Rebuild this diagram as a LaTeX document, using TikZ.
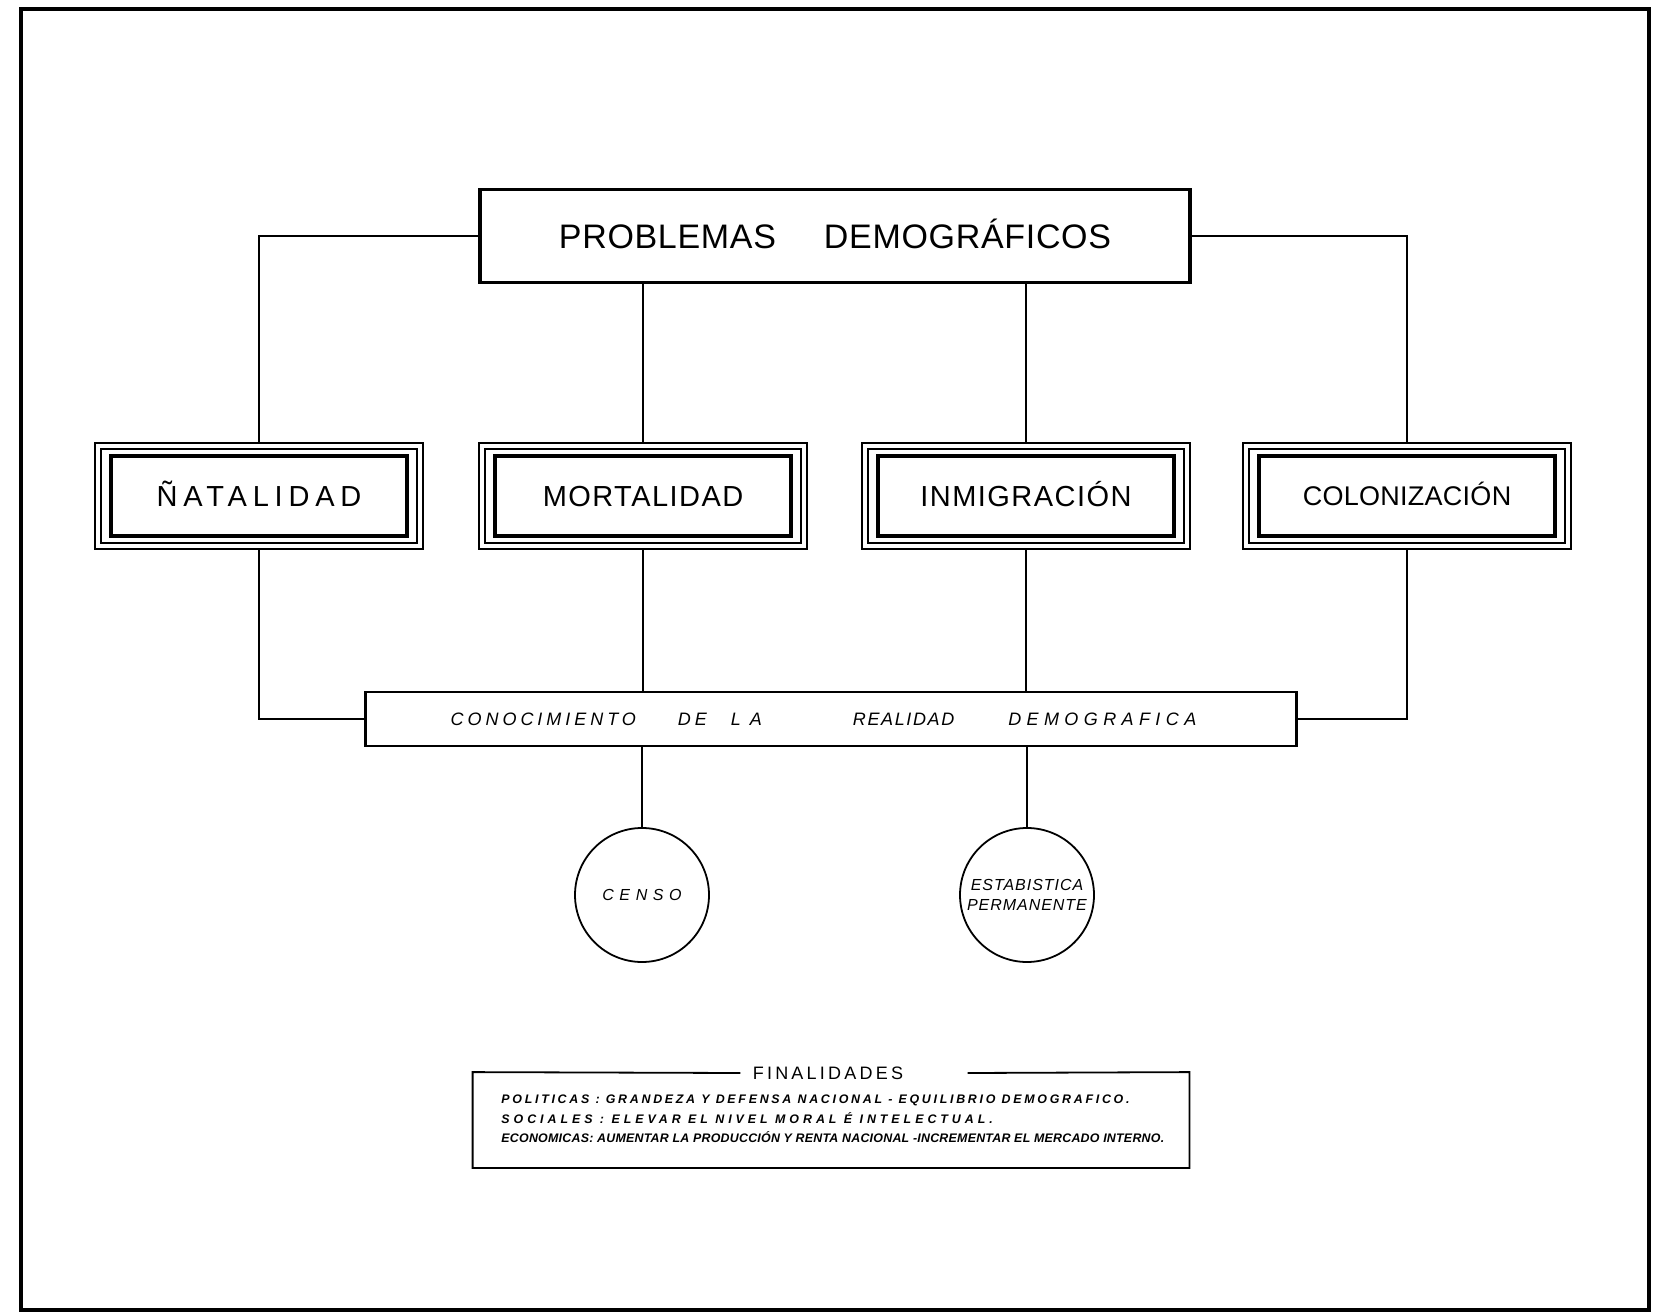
\documentclass[tikz,border=0pt]{standalone}
\usepackage{fontspec}
\setmainfont{Liberation Sans}
\begin{document}
\begin{tikzpicture}[x=0.5pt, y=-0.5pt,
  tile/.style={draw, line width=0.6pt, minimum width=164pt, minimum height=53pt, inner sep=0pt},
  midtile/.style={draw, line width=0.6pt, minimum width=158pt, minimum height=47pt, inner sep=0pt},
  innertile/.style={draw, line width=1.8pt, minimum width=148pt, minimum height=40pt, inner sep=0pt, text height=10.4pt, text depth=0pt, font=\fontsize{14.5}{17}\selectfont\addfontfeatures{LetterSpace=5}},
  link/.style={line width=1.2pt},
  roundbox/.style={circle, draw, line width=0.9pt, minimum size=67pt, inner sep=0pt, align=center}]
\useasboundingbox (0,0) rectangle (1653,1315);
\draw[line width=2pt] (21,9) rectangle (1649,1310);
\node[draw, line width=1.6pt, minimum width=355pt, minimum height=46.5pt, text height=12.2pt, text depth=0pt, font=\fontsize{17}{20}\selectfont\addfontfeatures{LetterSpace=2}] (prob) at (835,236) {PROBLEMAS\hspace{24pt}DEMOGRÁFICOS};
\node[tile] (nat) at (259,496) {};
\node[midtile] (natMid) at (nat) {};
\node[innertile, font=\fontsize{14.5}{17}\selectfont\addfontfeatures{LetterSpace=20}] (natIn) at (nat) {ÑATALIDAD};
\node[tile] (mor) at (643,496) {};
\node[midtile] (morMid) at (mor) {};
\node[innertile] (morIn) at (mor) {MORTALIDAD};
\node[tile] (inm) at (1026,496) {};
\node[midtile] (inmMid) at (inm) {};
\node[innertile] (inmIn) at (inm) {INMIGRACIÓN};
\node[tile] (col) at (1407,496) {};
\node[midtile] (colMid) at (col) {};
\node[innertile, text height=9.7pt, font=\fontsize{13.5}{17}\selectfont\addfontfeatures{LetterSpace=1}] (colIn) at (col) {COLONIZACIÓN};
\node[draw, line width=1.2pt, minimum width=465.5pt, minimum height=27pt, font=\fontsize{9}{11}\selectfont\itshape\addfontfeatures{LetterSpace=22}] (con) at (831,719) {CONOCIMIENTO\hspace{21pt}DE\hspace{12pt}{\addfontfeatures{LetterSpace=50}LA}\hspace{45.5pt}{\addfontfeatures{LetterSpace=9}REALIDAD}\hspace{27pt}{\addfontfeatures{LetterSpace=30}DEMOGRAFICA}\hspace{7.5pt}\null};
\node[roundbox, font=\fontsize{8}{10}\selectfont\itshape\addfontfeatures{LetterSpace=35}] (censo) at (642,895) {CENSO};
\node[roundbox, font=\fontsize{8}{10}\selectfont\itshape\addfontfeatures{LetterSpace=6}] (est) at (1027,895) {ESTABISTICA\\PERMANENTE};
\draw[link] (prob.west) -| (nat.north);
\draw[link] (prob.east) -| (col.north);
\draw[link] (mor.north) -- (mor.north |- prob.south);
\draw[link] (inm.north) -- (inm.north |- prob.south);
\draw[link] (nat.south) |- (con.west);
\draw[link] (col.south) |- (con.east);
\draw[link] (mor.south) -- (mor.south |- con.north);
\draw[link] (inm.south) -- (inm.south |- con.north);
\draw[link] (con.south -| censo.north) -- (censo.north);
\draw[link] (con.south -| est.north) -- (est.north);
\node[minimum width=358pt, minimum height=47.5pt, inner sep=0pt] (fin) at (831,1120) {};
\node[inner xsep=6pt, font=\fontsize{9}{11}\selectfont\addfontfeatures{LetterSpace=18}] (finTitle) at (828,1073) {FINALIDADES};
\draw[line width=0.9pt] (finTitle.west) -- (fin.north west) -- (fin.south west) -- (fin.south east) -- (fin.north east) -- ([xshift=26pt]finTitle.east);
\node[anchor=west, inner sep=0pt, align=left, font=\fontsize{6.2}{9.7}\selectfont\bfseries\itshape] (finText) at (501,1119) {{\addfontfeatures{LetterSpace=22}POLITICAS : GRANDEZA Y DEFENSA NACIONAL - EQUILIBRIO DEMOGRAFICO.}\\{\addfontfeatures{LetterSpace=32}SOCIALES : ELEVAR EL NIVEL MORAL É INTELECTUAL.}\\{\addfontfeatures{LetterSpace=2}ECONOMICAS: AUMENTAR LA PRODUCCIÓN Y RENTA NACIONAL -INCREMENTAR EL MERCADO INTERNO.}};
\end{tikzpicture}
\end{document}
